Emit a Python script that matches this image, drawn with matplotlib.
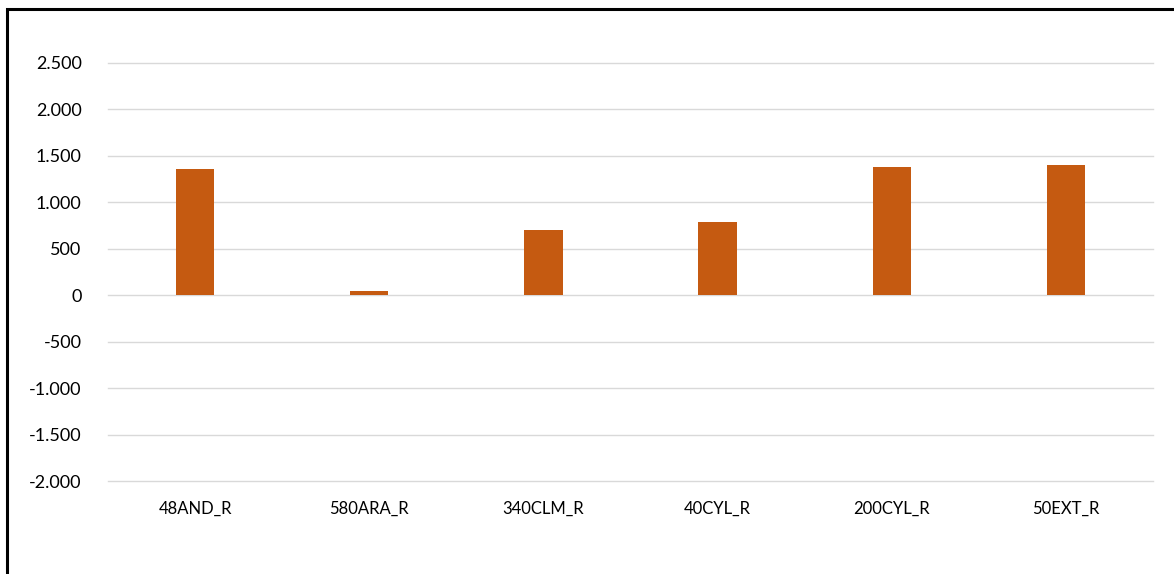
import matplotlib
matplotlib.use("Agg")
import matplotlib.pyplot as plt
from matplotlib.patches import Rectangle
from matplotlib.ticker import FuncFormatter

# donnees
categories = ["48AND_R", "580ARA_R", "340CLM_R", "40CYL_R", "200CYL_R", "50EXT_R"]
valeurs = [1360, 45, 705, 790, 1378, 1400]
yticks = [-2000, -1500, -1000, -500, 0, 500, 1000, 1500, 2000, 2500]

plt.rcParams['font.family'] = ['Lato', 'DejaVu Sans']

fig = plt.figure(figsize=(11.74, 5.74), dpi=100)
ax = fig.add_axes([108/1174, 93/574, 1045/1174, 418/574])

x = range(len(categories))
ax.bar(x, valeurs, width=0.22, color='#C55A11', zorder=3)

ax.set_xlim(-0.5, len(categories) - 0.5)
ax.set_ylim(-2000, 2500)
ax.set_yticks(yticks)
ax.yaxis.set_major_formatter(FuncFormatter(lambda v, p: f"{int(v):,}".replace(",", ".")))
ax.set_xticks(list(x))
ax.set_xticklabels(categories)

ax.grid(True, axis='y', color='#D9D9D9', linewidth=1, zorder=0, clip_on=False)
for gl in ax.get_ygridlines():
    gl.set_clip_on(False)
for s in ax.spines.values():
    s.set_visible(False)
ax.tick_params(axis='y', length=0, labelsize=13, colors='black', pad=19)
ax.tick_params(axis='x', length=0, labelsize=12, colors='black', pad=14)

# cadre (seulement haut et gauche visibles)
fig.patches.append(Rectangle((7/1174, -0.2), 1.2, (574 - 9)/574 + 0.2,
                             transform=fig.transFigure, fill=False,
                             edgecolor='black', linewidth=2.2))

fig.savefig("out.png", dpi=100)
